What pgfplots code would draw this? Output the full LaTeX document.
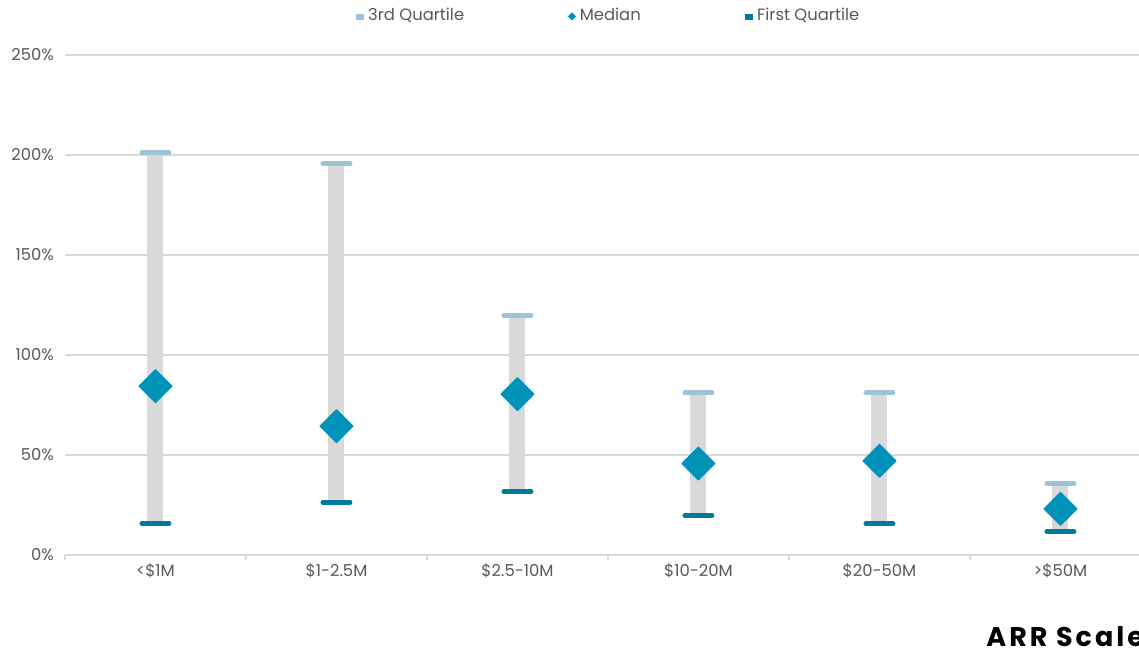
\documentclass[border=0pt]{standalone}
\usepackage{pgfplots}
\pgfplotsset{compat=1.18}
\usepackage{pgfplotstable}
\usepackage{fontspec}
\setmainfont{Poppins}
\newfontfamily\arrfont[LetterSpace=11.0]{Poppins}

\definecolor{gridc}{HTML}{D9D9D9}
\definecolor{rangec}{HTML}{D9D9D9}
\definecolor{q3c}{HTML}{9DC3D6}
\definecolor{medc}{HTML}{0093BA}
\definecolor{q1c}{HTML}{007B9C}
\definecolor{labelc}{HTML}{595959}

% quartile cap: short horizontal bar with rounded ends
\pgfdeclareplotmark{cap}{%
  \pgfsetroundcap
  \pgfpathmoveto{\pgfqpoint{-6.75pt}{0pt}}%
  \pgfpathlineto{\pgfqpoint{6.75pt}{0pt}}%
  \pgfusepathqstroke}
% median marker: square diamond
\pgfdeclareplotmark{bigdiamond}{%
  \pgfpathmoveto{\pgfqpoint{0pt}{8.2pt}}%
  \pgfpathlineto{\pgfqpoint{8.2pt}{0pt}}%
  \pgfpathlineto{\pgfqpoint{0pt}{-8.2pt}}%
  \pgfpathlineto{\pgfqpoint{-8.2pt}{0pt}}%
  \pgfpathclose
  \pgfusepathqfillstroke}

% growth rate quartiles by ARR scale (%)
\pgfplotstableread{
x q1 med q3
0 15.75 84.4 201
1 26.4 64.4 195.75
2 31.75 80.4 119.75
3 19.75 45.75 81.1
4 15.75 47.1 81.1
5 11.75 23.1 35.75
}\arrdata

\begin{document}
\begin{tikzpicture}
\begin{axis}[
  scale only axis,
  width=537pt, height=250pt,
  xmin=-0.5, xmax=5.434,
  ymin=0, ymax=250,
  clip=false,
  axis x line*=bottom, axis y line*=left,
  x axis line style={gridc, line width=1.1pt},
  y axis line style={draw=none},
  ymajorgrids,
  grid style={gridc, line width=1.1pt},
  xtick={0,...,5},
  xticklabels={<\$1M, \$1-2.5M, \$2.5-10M, \$10-20M, \$20-50M, >\$50M},
  minor xtick={-0.5,0.5,...,4.5},
  tick align=outside,
  major tick length=0pt,
  minor tick length=2.5pt,
  minor tick style={gridc, line width=0.6pt},
  ytick={0,50,...,250},
  yticklabel={\pgfmathprintnumber{\tick}\%},
  /pgf/number format/assume math mode=true,
  tick label style={font=\fontsize{8.2}{10}\selectfont, text=labelc},
  yticklabel style={xshift=-2pt},
  xticklabel style={yshift=-1pt},
  legend style={
    at={(rel axis cs:0.507,1.078)}, anchor=center,
    draw=none, fill=none,
    legend columns=3,
    font=\fontsize{8.2}{10}\selectfont, text=labelc,
    /tikz/every odd column/.append style={column sep=0pt},
    /tikz/every even column/.append style={column sep=50pt},
  },
]
% interquartile range as a thick grey bar from Q1 to Q3
\addplot[draw=none, mark=none, forget plot,
  error bars/.cd, y dir=minus, y explicit,
  error mark=none,
  error bar style={draw=rangec, line width=8pt}]
  table[x=x, y=q3, y error minus expr=\thisrow{q3}-\thisrow{q1}] {\arrdata};

\addplot[only marks, mark=cap, mark options={q3c, line width=2.5pt},
  legend image code/.code={\fill[q3c] (0pt,-1.6pt) rectangle (3.8pt,0.9pt);}]
  table[x=x, y=q3] {\arrdata};
\addlegendentry{3rd Quartile}

\addplot[only marks, mark=bigdiamond, mark options={medc, fill=medc, line width=0.6pt, line join=round},
  legend image code/.code={\fill[medc] (1.7pt,-1.9pt) -- (3.4pt,-0.2pt) -- (1.7pt,1.5pt) -- (0pt,-0.2pt) -- cycle;}]
  table[x=x, y=med] {\arrdata};
\addlegendentry{Median}

\addplot[only marks, mark=cap, mark options={q1c, line width=2.5pt},
  legend image code/.code={\fill[q1c] (0pt,-1.6pt) rectangle (3.8pt,0.9pt);}]
  table[x=x, y=q1] {\arrdata};
\addlegendentry{First Quartile}

\coordinate (bl) at (rel axis cs:0,0);
\end{axis}
\node[anchor=base west, inner sep=0pt, font=\arrfont\bfseries\fontsize{13.5}{16}\selectfont]
  at ([shift={(460.5pt,-46pt)}]bl) {ARR Scale};
\pgfresetboundingbox
\path[use as bounding box] ([shift={(-32.5pt,-48pt)}]bl) rectangle ([shift={(537pt,277.5pt)}]bl);
\end{tikzpicture}
\end{document}
